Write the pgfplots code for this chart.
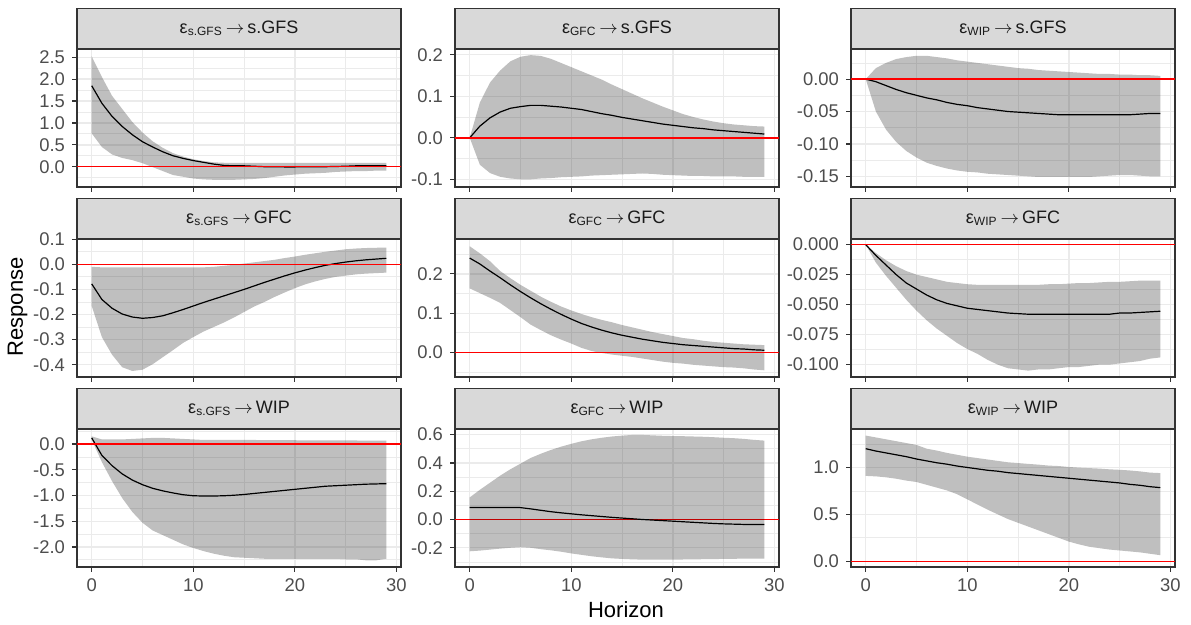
\documentclass[border=0pt]{standalone}
\usepackage{pgfplots}
\pgfplotsset{compat=1.18}
\usepackage{pgfplotstable}
\usepackage{fontspec}
\setmainfont{Liberation Sans}

\definecolor{gray10}{HTML}{1A1A1A}
\definecolor{gray20}{HTML}{333333}
\definecolor{gray30}{HTML}{4D4D4D}
\definecolor{gray85}{HTML}{D9D9D9}
\definecolor{gray92}{HTML}{EBEBEB}
\definecolor{zeroline}{HTML}{FF0000}

% impulse responses: horizon, point estimate, lower and upper band
\pgfplotstableread{
x m lo hi
0 1.85 0.76 2.52
1 1.45 0.45 2.05
2 1.15 0.28 1.62
3 0.92 0.20 1.32
4 0.73 0.15 1.02
5 0.57 0.08 0.78
6 0.45 -0.01 0.58
7 0.34 -0.10 0.43
8 0.25 -0.19 0.31
9 0.19 -0.23 0.23
10 0.14 -0.27 0.17
11 0.10 -0.29 0.13
12 0.06 -0.30 0.10
13 0.03 -0.30 0.09
14 0.02 -0.30 0.09
15 0.02 -0.29 0.09
16 0.01 -0.28 0.09
17 0.00 -0.26 0.09
18 0.00 -0.23 0.09
19 -0.005 -0.20 0.09
20 -0.005 -0.18 0.09
21 0.00 -0.16 0.09
22 0.00 -0.15 0.09
23 0.00 -0.14 0.09
24 0.005 -0.12 0.09
25 0.01 -0.11 0.09
26 0.02 -0.10 0.09
27 0.02 -0.10 0.09
28 0.02 -0.09 0.09
29 0.02 -0.09 0.09
}\tGfsGfs

\pgfplotstableread{
x m lo hi
0 0 0 0
1 0.028 -0.065 0.085
2 0.048 -0.085 0.133
3 0.062 -0.094 0.162
4 0.071 -0.098 0.184
5 0.075 -0.100 0.195
6 0.078 -0.100 0.199
7 0.078 -0.098 0.197
8 0.076 -0.097 0.190
9 0.074 -0.095 0.180
10 0.071 -0.094 0.170
11 0.068 -0.093 0.160
12 0.063 -0.091 0.150
13 0.058 -0.090 0.140
14 0.054 -0.089 0.128
15 0.049 -0.088 0.117
16 0.045 -0.087 0.106
17 0.041 -0.086 0.095
18 0.037 -0.087 0.085
19 0.033 -0.089 0.075
20 0.030 -0.090 0.066
21 0.027 -0.091 0.057
22 0.024 -0.092 0.050
23 0.022 -0.092 0.044
24 0.019 -0.093 0.039
25 0.017 -0.093 0.035
26 0.015 -0.093 0.032
27 0.013 -0.094 0.030
28 0.011 -0.094 0.028
29 0.009 -0.094 0.027
}\tGfcGfs

\pgfplotstableread{
x m lo hi
0 0 0 0
1 -0.004 -0.050 0.017
2 -0.010 -0.078 0.025
3 -0.016 -0.097 0.031
4 -0.021 -0.111 0.034
5 -0.025 -0.121 0.036
6 -0.029 -0.129 0.036
7 -0.032 -0.134 0.034
8 -0.036 -0.138 0.032
9 -0.039 -0.141 0.029
10 -0.041 -0.143 0.027
11 -0.044 -0.144 0.025
12 -0.046 -0.146 0.023
13 -0.048 -0.147 0.021
14 -0.050 -0.148 0.019
15 -0.051 -0.149 0.017
16 -0.052 -0.150 0.016
17 -0.053 -0.151 0.014
18 -0.054 -0.151 0.013
19 -0.055 -0.151 0.012
20 -0.055 -0.151 0.011
21 -0.055 -0.151 0.010
22 -0.055 -0.151 0.009
23 -0.055 -0.150 0.008
24 -0.055 -0.149 0.008
25 -0.055 -0.148 0.007
26 -0.055 -0.148 0.007
27 -0.054 -0.149 0.006
28 -0.053 -0.150 0.006
29 -0.053 -0.150 0.005
}\tWipGfs

\pgfplotstableread{
x m lo hi
0 -0.078 -0.166 -0.010
1 -0.140 -0.290 -0.012
2 -0.175 -0.360 -0.012
3 -0.198 -0.410 -0.012
4 -0.210 -0.425 -0.012
5 -0.215 -0.420 -0.012
6 -0.212 -0.398 -0.012
7 -0.205 -0.370 -0.012
8 -0.193 -0.342 -0.012
9 -0.180 -0.313 -0.012
10 -0.166 -0.290 -0.012
11 -0.152 -0.268 -0.012
12 -0.139 -0.250 -0.010
13 -0.126 -0.232 -0.006
14 -0.113 -0.212 -0.002
15 -0.100 -0.190 0.003
16 -0.086 -0.168 0.008
17 -0.072 -0.150 0.013
18 -0.059 -0.130 0.018
19 -0.046 -0.112 0.025
20 -0.034 -0.095 0.031
21 -0.023 -0.080 0.038
22 -0.013 -0.068 0.044
23 -0.004 -0.058 0.050
24 0.003 -0.050 0.055
25 0.009 -0.045 0.060
26 0.014 -0.040 0.063
27 0.018 -0.037 0.065
28 0.021 -0.035 0.066
29 0.024 -0.033 0.067
}\tGfsGfc

\pgfplotstableread{
x m lo hi
0 0.240 0.163 0.270
1 0.225 0.151 0.252
2 0.207 0.139 0.232
3 0.190 0.126 0.207
4 0.172 0.108 0.189
5 0.155 0.090 0.172
6 0.139 0.071 0.157
7 0.124 0.057 0.142
8 0.110 0.044 0.129
9 0.097 0.033 0.117
10 0.085 0.023 0.107
11 0.074 0.012 0.098
12 0.065 0.004 0.090
13 0.057 -0.001 0.083
14 0.050 -0.005 0.077
15 0.044 -0.008 0.070
16 0.039 -0.011 0.064
17 0.034 -0.015 0.058
18 0.030 -0.019 0.052
19 0.026 -0.023 0.047
20 0.023 -0.026 0.042
21 0.020 -0.028 0.037
22 0.018 -0.031 0.034
23 0.016 -0.033 0.030
24 0.014 -0.035 0.027
25 0.012 -0.037 0.025
26 0.010 -0.038 0.023
27 0.009 -0.040 0.021
28 0.007 -0.043 0.020
29 0.006 -0.045 0.019
}\tGfcGfc

\pgfplotstableread{
x m lo hi
0 0 0 0
1 -0.009 -0.015 -0.007
2 -0.017 -0.026 -0.013
3 -0.025 -0.036 -0.018
4 -0.032 -0.046 -0.022
5 -0.037 -0.055 -0.025
6 -0.042 -0.063 -0.027
7 -0.046 -0.070 -0.029
8 -0.049 -0.076 -0.031
9 -0.051 -0.082 -0.032
10 -0.053 -0.087 -0.033
11 -0.054 -0.091 -0.0335
12 -0.055 -0.096 -0.0335
13 -0.056 -0.100 -0.0335
14 -0.057 -0.103 -0.0335
15 -0.0575 -0.104 -0.0335
16 -0.058 -0.105 -0.0335
17 -0.058 -0.104 -0.0335
18 -0.058 -0.104 -0.033
19 -0.058 -0.103 -0.033
20 -0.058 -0.102 -0.0325
21 -0.058 -0.102 -0.032
22 -0.058 -0.101 -0.032
23 -0.058 -0.100 -0.0315
24 -0.058 -0.100 -0.031
25 -0.057 -0.099 -0.031
26 -0.057 -0.098 -0.0305
27 -0.0565 -0.097 -0.030
28 -0.056 -0.095 -0.030
29 -0.0555 -0.094 -0.030
}\tWipGfc

\pgfplotstableread{
x m lo hi
0 0.12 0.085 0.15
1 -0.22 -0.35 0.09
2 -0.42 -0.72 0.09
3 -0.58 -1.05 0.09
4 -0.70 -1.32 0.10
5 -0.79 -1.53 0.11
6 -0.86 -1.68 0.12
7 -0.91 -1.77 0.12
8 -0.95 -1.86 0.11
9 -0.985 -1.95 0.10
10 -1.005 -2.02 0.09
11 -1.01 -2.08 0.08
12 -1.01 -2.13 0.08
13 -1.005 -2.17 0.08
14 -0.995 -2.20 0.08
15 -0.98 -2.21 0.08
16 -0.96 -2.22 0.08
17 -0.94 -2.23 0.075
18 -0.92 -2.23 0.075
19 -0.90 -2.23 0.075
20 -0.88 -2.23 0.075
21 -0.86 -2.23 0.07
22 -0.84 -2.23 0.07
23 -0.82 -2.23 0.07
24 -0.81 -2.23 0.07
25 -0.80 -2.24 0.07
26 -0.79 -2.24 0.07
27 -0.78 -2.26 0.065
28 -0.775 -2.26 0.065
29 -0.77 -2.23 0.065
}\tGfsWip

\pgfplotstableread{
x m lo hi
0 0.085 -0.225 0.156
1 0.085 -0.220 0.210
2 0.085 -0.213 0.260
3 0.085 -0.206 0.310
4 0.085 -0.200 0.355
5 0.084 -0.196 0.395
6 0.075 -0.200 0.435
7 0.065 -0.210 0.465
8 0.055 -0.218 0.492
9 0.047 -0.228 0.515
10 0.040 -0.240 0.535
11 0.033 -0.250 0.553
12 0.027 -0.260 0.567
13 0.021 -0.268 0.578
14 0.015 -0.275 0.587
15 0.010 -0.279 0.593
16 0.005 -0.282 0.598
17 0.000 -0.284 0.598
18 -0.004 -0.284 0.595
19 -0.008 -0.284 0.592
20 -0.012 -0.284 0.590
21 -0.016 -0.283 0.589
22 -0.020 -0.282 0.587
23 -0.024 -0.281 0.585
24 -0.028 -0.280 0.582
25 -0.031 -0.279 0.578
26 -0.033 -0.278 0.575
27 -0.035 -0.277 0.570
28 -0.036 -0.277 0.563
29 -0.036 -0.277 0.558
}\tGfcWip

\pgfplotstableread{
x m lo hi
0 1.200 0.910 1.340
1 1.175 0.905 1.320
2 1.155 0.895 1.300
3 1.135 0.880 1.280
4 1.115 0.860 1.260
5 1.090 0.845 1.240
6 1.070 0.815 1.200
7 1.050 0.785 1.180
8 1.035 0.755 1.155
9 1.015 0.715 1.135
10 1.000 0.660 1.115
11 0.985 0.605 1.100
12 0.970 0.550 1.085
13 0.960 0.500 1.070
14 0.945 0.450 1.055
15 0.935 0.410 1.047
16 0.925 0.370 1.038
17 0.915 0.330 1.030
18 0.905 0.290 1.020
19 0.895 0.250 1.015
20 0.885 0.210 1.005
21 0.875 0.180 0.998
22 0.865 0.155 0.993
23 0.855 0.140 0.988
24 0.845 0.125 0.980
25 0.835 0.115 0.975
26 0.820 0.105 0.968
27 0.810 0.095 0.958
28 0.795 0.080 0.945
29 0.785 0.065 0.940
}\tWipWip

% zero reference line, drawn as a thin filled strip around y = 0
% (y is in units of half the strip height)
\pgfplotstableread{
x y
-1.45 -1
30.45 -1
30.45 1
-1.45 1
}\tZero

\pgfplotsset{
  irf/.style={
    scale only axis, width=162pt, height=69pt, anchor=north west,
    xmin=-1.45, xmax=30.45,
    xtick={0,10,20,30}, minor xtick={5,15,25},
    xticklabels={},
    grid=both,
    major grid style={draw=gray92, line width=0.7pt},
    minor grid style={draw=gray92, line width=0.4pt},
    axis line style={draw=gray20, line width=0.6pt},
    tick style={draw=gray20, line width=0.6pt},
    major tick length=2.5pt, minor tick length=0pt,
    tick align=outside, tick pos=left,
    ticklabel style={font=\fontsize{9.2}{10}\selectfont, text=gray30},
    yticklabel style={/pgf/number format/fixed,
      /pgf/number format/fixed zerofill,
      /pgf/number format/precision=1,
      /pgf/number format/assume math mode=true},
    scaled y ticks=false,
    stack plots=y, reverse stacked plots=false,
    title style={at={(0.5,1)}, anchor=south, yshift=-6pt, fill=gray85, draw=gray20,
      line width=0.6pt, minimum width=162pt, minimum height=20pt,
      inner sep=0pt, text=gray10, font=\fontsize{9}{10}\selectfont},
  },
  bottomrow/.style={xticklabels={0,10,20,30}},
  % zero line drawn as a red grid line at y = 0
  zerogrid/.style={extra y ticks={0}, extra y tick labels={},
    extra y tick style={grid=major, major tick length=0pt,
      major grid style={draw=zeroline, line width=0.75pt}}},
}

% ribbon (lower band, then its width stacked on top) and point estimate
\newcommand{\irfband}[1]{%
  \addplot[draw=none] table[x=x, y=lo] {#1};
  \addplot[fill=black, fill opacity=0.25, draw=none]
    table[x=x, y expr=\thisrow{hi}-\thisrow{lo}] {#1} \closedcycle;
  \addplot[stack plots=false, color=black, line width=0.6pt] table[x=x, y=m] {#1};
}
% the same with the zero line on top; #2 is half its thickness in data units
\newcommand{\irfplots}[2]{%
  \irfband{#1}
  \addplot[stack plots=false, fill=zeroline, draw=none]
    table[x=x, y expr=\thisrow{y}*#2] {\tZero};
}
\newcommand{\striplabel}[2]{ε\textsubscript{#1}\,$\rightarrow$\,#2}

\begin{document}
\begin{tikzpicture}

% row 1: responses of s.GFS
\begin{axis}[irf, at={(38.5pt,-24.5pt)}, title={\striplabel{s.GFS}{s.GFS}},
  ymin=-0.464, ymax=2.69, ytick={0,0.5,...,2.5},
  minor ytick={-0.25,0.25,0.75,1.25,1.75,2.25}]
  \irfplots{\tGfsGfs}{0.0174}
\end{axis}
\begin{axis}[irf, at={(227.5pt,-24.5pt)}, title={\striplabel{GFC}{s.GFS}},
  ymin=-0.1185, ymax=0.2137, ytick={-0.1,0,0.1,0.2},
  minor ytick={-0.05,0.05,0.15}]
  \irfplots{\tGfcGfs}{0.00183}
\end{axis}
\begin{axis}[irf, at={(425.5pt,-24.5pt)}, title={\striplabel{WIP}{s.GFS}},
  ymin=-0.1665, ymax=0.0465, ytick={-0.15,-0.1,-0.05,0},
  minor ytick={-0.125,-0.075,-0.025,0.025},
  yticklabel style={/pgf/number format/precision=2}]
  \irfplots{\tWipGfs}{0.00117}
\end{axis}

% row 2: responses of GFC
\begin{axis}[irf, at={(38.5pt,-119.5pt)}, title={\striplabel{s.GFS}{GFC}},
  ymin=-0.449, ymax=0.101, ytick={-0.4,-0.3,-0.2,-0.1,0,0.1},
  minor ytick={-0.35,-0.25,-0.15,-0.05,0.05}]
  \irfplots{\tGfsGfc}{0.00303}
\end{axis}
\begin{axis}[irf, at={(227.5pt,-119.5pt)}, title={\striplabel{GFC}{GFC}},
  ymin=-0.062, ymax=0.2885, ytick={0,0.1,0.2},
  minor ytick={-0.05,0.05,0.15,0.25}]
  \irfplots{\tGfcGfc}{0.00193}
\end{axis}
\begin{axis}[irf, at={(425.5pt,-119.5pt)}, title={\striplabel{WIP}{GFC}},
  ymin=-0.1103, ymax=0.0047, ytick={-0.1,-0.075,-0.05,-0.025,0},
  minor ytick={-0.0875,-0.0625,-0.0375,-0.0125},
  yticklabel style={/pgf/number format/precision=3}]
  \irfplots{\tWipGfc}{0.000633}
\end{axis}

% row 3: responses of WIP
\begin{axis}[irf, bottomrow, at={(38.5pt,-214.5pt)}, title={\striplabel{s.GFS}{WIP}},
  ymin=-2.39, ymax=0.293, ytick={-2,-1.5,-1,-0.5,0},
  minor ytick={-2.25,-1.75,-1.25,-0.75,-0.25,0.25}]
  \irfplots{\tGfsWip}{0.0148}
\end{axis}
\begin{axis}[irf, bottomrow, zerogrid, at={(227.5pt,-214.5pt)}, title={\striplabel{GFC}{WIP}},
  ymin=-0.336, ymax=0.64, ytick={-0.2,0,0.2,0.4,0.6},
  minor ytick={-0.3,-0.1,0.1,0.3,0.5}]
  \irfband{\tGfcWip}
\end{axis}
\begin{axis}[irf, bottomrow, zerogrid, at={(425.5pt,-214.5pt)}, title={\striplabel{WIP}{WIP}},
  ymin=-0.061, ymax=1.41, ytick={0,0.5,1},
  minor ytick={0.25,0.75,1.25}]
  \irfband{\tWipWip}
\end{axis}

\node[rotate=90, font=\fontsize{11}{12}\selectfont] at (8.75pt,-153.5pt) {Response};
\node[font=\fontsize{11}{12}\selectfont] at (313pt,-305pt) {Horizon};
\path (0,0) rectangle (595.5pt,-312.5pt);
\end{tikzpicture}
\end{document}
